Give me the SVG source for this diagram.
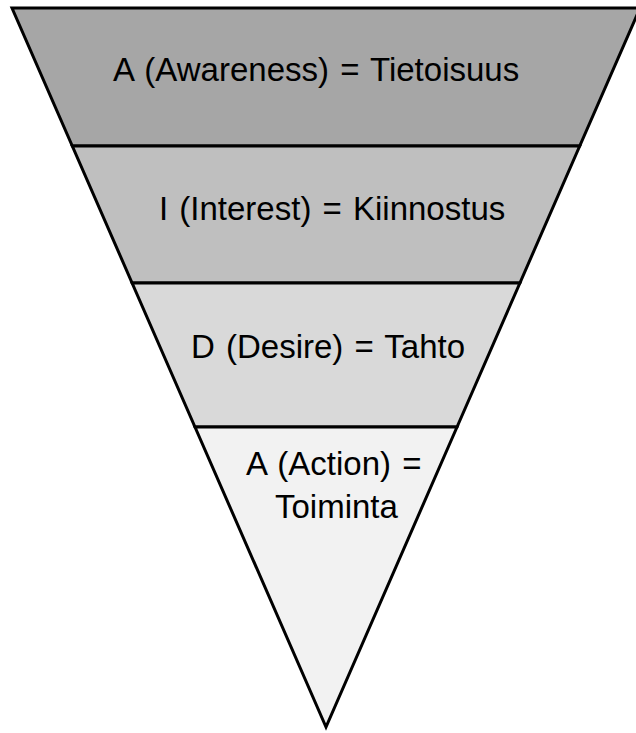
<svg xmlns="http://www.w3.org/2000/svg" width="636" height="733" viewBox="0 0 636 733">
<style>
.band{stroke:#000;stroke-width:3;stroke-linejoin:miter}
.lbl{font-family:"Liberation Sans",Arial,sans-serif;font-size:33px;fill:#000;word-spacing:2px}
</style>
<rect width="636" height="733" fill="#fff"/>
<g id="awareness">
<polygon class="band" fill="#a6a6a6" points="12,8 640,8 579.7,146 72.3,146"/>
<text class="lbl" x="113" y="81">A (Awareness) = Tietoisuus</text>
</g>
<g id="interest">
<polygon class="band" fill="#bfbfbf" points="72.3,146 579.7,146 519.9,283 132.1,283"/>
<text class="lbl" x="159" y="220">I (Interest) = Kiinnostus</text>
</g>
<g id="desire">
<polygon class="band" fill="#d9d9d9" points="132.1,283 519.9,283 457,427 195,427"/>
<text class="lbl" x="191" y="358">D (Desire) = Tahto</text>
</g>
<g id="action">
<polygon class="band" fill="#f2f2f2" points="195,427 457,427 326,727"/>
<text class="lbl" x="246" y="475">A (Action) =</text>
<text class="lbl" x="275" y="518">Toiminta</text>
</g>
</svg>
